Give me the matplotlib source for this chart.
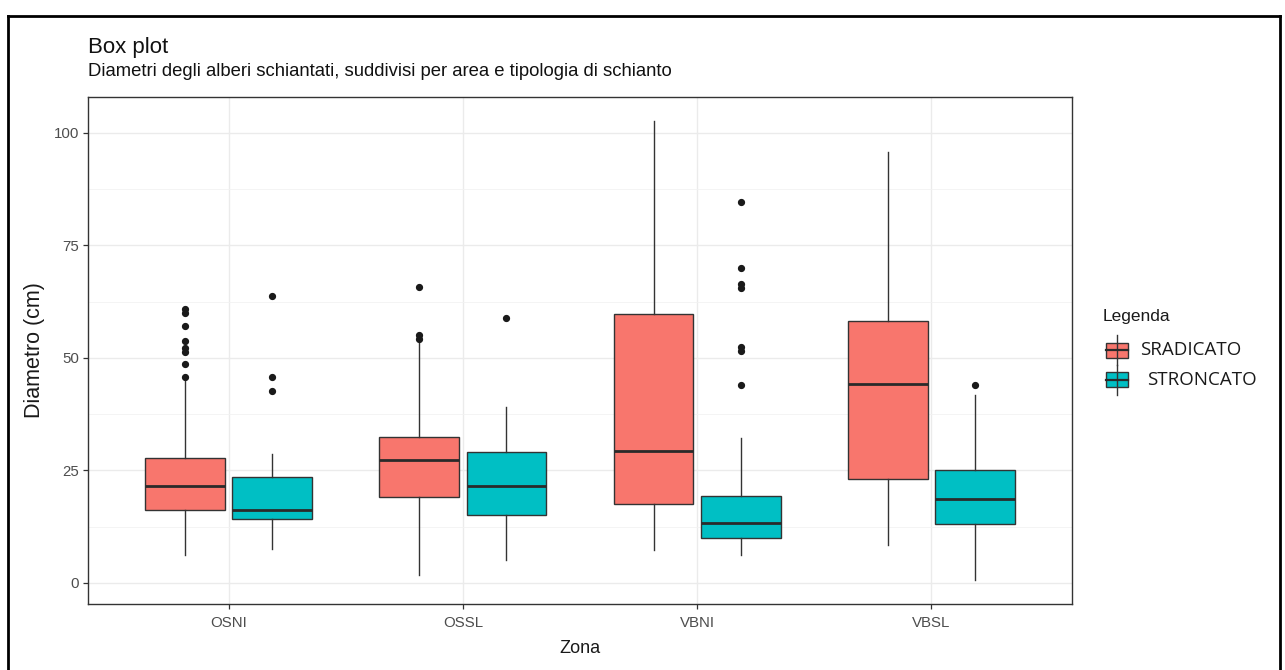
import matplotlib
matplotlib.use("Agg")
import matplotlib.pyplot as plt
from matplotlib.patches import Rectangle
from matplotlib.lines import Line2D

# Zones on the x axis and crash types (fill groups)
zones = ["OSNI", "OSSL", "VBNI", "VBSL"]
groups = ["SRADICATO", "STRONCATO"]
fill_colors = ["#F8766D", "#00BFC4"]

# Box statistics per zone (cm)
sradicato_whislo = [6.2, 1.8, 7.3, 8.4]
sradicato_q1 = [16.2, 19.1, 17.5, 23.0]
sradicato_med = [21.6, 27.2, 29.4, 44.2]
sradicato_q3 = [27.8, 32.4, 59.8, 58.2]
sradicato_whishi = [45.2, 53.3, 102.7, 95.8]
sradicato_fliers = [
    [45.8, 48.7, 51.4, 52.2, 53.8, 57.0, 59.9, 60.8],
    [54.2, 55.0, 65.8],
    [],
    [],
]

stroncato_whislo = [7.5, 5.1, 6.2, 0.7]
stroncato_q1 = [14.2, 15.0, 9.9, 13.1]
stroncato_med = [16.2, 21.6, 13.3, 18.7]
stroncato_q3 = [23.5, 29.0, 19.2, 25.1]
stroncato_whishi = [28.7, 39.2, 32.2, 41.8]
stroncato_fliers = [
    [42.7, 45.8, 63.8],
    [58.8],
    [44.0, 51.6, 52.5, 65.6, 66.4, 69.9, 84.7],
    [44.0],
]

y_ticks = [0, 25, 50, 75, 100]

series = [
    (sradicato_whislo, sradicato_q1, sradicato_med, sradicato_q3, sradicato_whishi, sradicato_fliers),
    (stroncato_whislo, stroncato_q1, stroncato_med, stroncato_q3, stroncato_whishi, stroncato_fliers),
]

W, H = 1285, 670
fig = plt.figure(figsize=(W / 100, H / 100), dpi=100)
fig.patch.set_facecolor("white")


def fx(x):
    return x / W


def fy(y):
    return 1 - y / H


ax = fig.add_axes([fx(88), fy(604), (1072 - 88) / W, (604 - 97) / H])

edge = "#333333"
median_col = "#2a2a2a"
offsets = [-0.186, 0.186]
box_w = 0.34
xs = list(range(1, len(zones) + 1))

for gi, (lo, q1, med, q3, hi, fl) in enumerate(series):
    stats = []
    for i in range(len(zones)):
        stats.append(dict(whislo=lo[i], q1=q1[i], med=med[i], q3=q3[i],
                          whishi=hi[i], fliers=fl[i]))
    ax.bxp(stats, positions=[x + offsets[gi] for x in xs], widths=box_w,
           patch_artist=True, showcaps=False, manage_ticks=False,
           boxprops=dict(facecolor=fill_colors[gi], edgecolor=edge, linewidth=1.0),
           medianprops=dict(color=median_col, linewidth=2.0, solid_capstyle="butt"),
           whiskerprops=dict(color=edge, linewidth=1.0),
           flierprops=dict(marker="o", markerfacecolor="#1a1a1a",
                           markeredgecolor="#1a1a1a", markersize=4.2),
           zorder=3)

ax.set_xlim(0.4, len(zones) + 0.6)
ax.set_ylim(-4.7, 108.0)
ax.set_xticks(xs)
ax.set_xticklabels(zones)
ax.set_yticks(y_ticks)
ax.set_yticks([12.5, 37.5, 62.5, 87.5], minor=True)

ax.grid(True, which="major", color="#EBEBEB", linewidth=1.0, zorder=0)
ax.grid(True, which="minor", axis="y", color="#F2F2F2", linewidth=0.6, zorder=0)
ax.set_axisbelow(True)

for s in ax.spines.values():
    s.set_color(edge)
    s.set_linewidth(1.0)

ax.tick_params(axis="both", which="major", length=3.5, width=0.9, color=edge,
               labelcolor="#4D4D4D", labelsize=10.8, pad=3)
ax.tick_params(axis="x", which="major", pad=5)
ax.tick_params(axis="both", which="minor", length=0)
for lab in ax.get_xticklabels() + ax.get_yticklabels():
    lab.set_fontfamily("Liberation Sans")

ax.set_xlabel("Zona", fontsize=13, family="Liberation Sans", color="#1a1a1a", labelpad=7)
ax.set_ylabel("Diametro (cm)", fontsize=15.5, family="Liberation Sans", color="#1a1a1a",
              labelpad=6)

fig.text(fx(88), fy(53.5), "Box plot", fontsize=16, family="Liberation Sans",
         color="#111111", va="baseline", ha="left")
fig.text(fx(88), fy(75.5),
         "Diametri degli alberi schiantati, suddivisi per area e tipologia di schianto",
         fontsize=13.3, family="Liberation Sans", color="#111111", va="baseline", ha="left")

# Legend drawn as ggplot-style box keys
fig.text(fx(1103), fy(316), "Legenda", fontsize=12.5, family="Liberation Sans",
         color="#1a1a1a", va="center", ha="left")
key_rows = [350, 380]
label_x = [1140, 1147]
for gi, name in enumerate(groups):
    yc = key_rows[gi]
    x0, x1 = 1106, 1128
    xc = (x0 + x1) / 2
    fig.add_artist(Line2D([fx(xc), fx(xc)], [fy(yc - 15), fy(yc + 15)], color=edge,
                          linewidth=1.0, transform=fig.transFigure))
    fig.add_artist(Rectangle((fx(x0), fy(yc + 7.5)), (x1 - x0) / W, 15 / H,
                             facecolor=fill_colors[gi], edgecolor=edge, linewidth=1.0,
                             transform=fig.transFigure))
    fig.add_artist(Line2D([fx(x0), fx(x1)], [fy(yc), fy(yc)], color=median_col,
                          linewidth=1.6, transform=fig.transFigure))
    fig.text(fx(label_x[gi]), fy(yc), name, fontsize=13.5, family="Open Sans",
             color="#1a1a1a", va="center", ha="left")

# outer frame around the whole figure
for xy in [([8, 8], [16, 670]), ([8, 1280], [16, 16]), ([1280, 1280], [16, 670])]:
    fig.add_artist(Line2D([fx(v) for v in xy[0]], [fy(v) for v in xy[1]],
                          color="black", linewidth=2.0, transform=fig.transFigure))

fig.savefig("out.png", dpi=100, facecolor="white")
